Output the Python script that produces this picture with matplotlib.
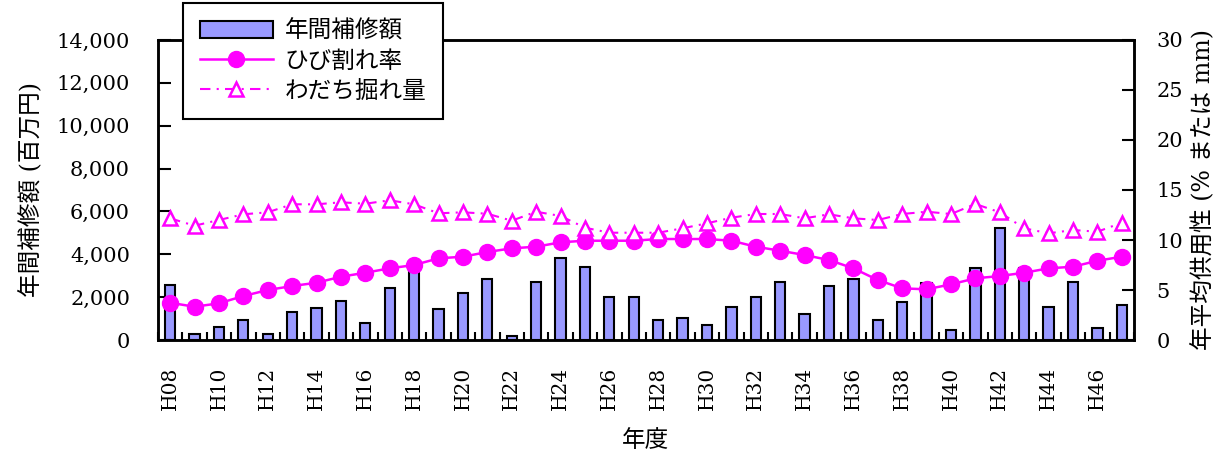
import numpy as np
import matplotlib
matplotlib.use("Agg")
from matplotlib import pyplot as plt
from matplotlib.patches import Patch
from matplotlib.lines import Line2D

plt.rcParams['font.family'] = ['DejaVu Serif', 'Noto Sans CJK JP']

# datos
years = ["H%02d" % y for y in range(8, 48)]
repair = [2550, 300, 600, 950, 300, 1300, 1500, 1800, 780, 2450,
          3350, 1430, 2180, 2830, 200, 2720, 3850, 3400, 2000, 2000,
          950, 1050, 680, 1520, 2000, 2720, 1230, 2530, 2830, 950,
          1790, 2640, 470, 3380, 5240, 3380, 1520, 2720, 580, 1620]
crack = [3.73, 3.33, 3.67, 4.4, 5.0, 5.4, 5.73, 6.33, 6.73, 7.17,
         7.5, 8.17, 8.33, 8.8, 9.17, 9.33, 9.77, 9.93, 9.93, 9.93,
         10.1, 10.1, 10.1, 9.93, 9.33, 8.93, 8.5, 8.0, 7.17, 6.0,
         5.17, 5.07, 5.57, 6.17, 6.4, 6.73, 7.17, 7.33, 7.93, 8.33]
rut = [12.17, 11.43, 12.0, 12.57, 12.77, 13.57, 13.57, 13.77, 13.63, 13.97,
       13.57, 12.67, 12.77, 12.63, 11.93, 12.83, 12.4, 11.23, 10.73, 10.73,
       10.73, 11.17, 11.67, 12.23, 12.6, 12.6, 12.17, 12.57, 12.17, 12.0,
       12.6, 12.83, 12.6, 13.6, 12.77, 11.17, 10.67, 11.0, 10.83, 11.73]

x = np.arange(len(years))
mag = "#FF00FF"

fig = plt.figure(figsize=(12.24, 4.54), dpi=100)
ax = fig.add_axes([0.129, 0.251, 0.7975, 0.661])
ax2 = ax.twinx()

ax.bar(x, repair, width=0.42, color="#9999FF", edgecolor="black", linewidth=1.5)
ax2.plot(x, crack, color=mag, lw=1.8, marker="o", ms=11.5)
ax2.plot(x, rut, color=mag, lw=1.5, marker="^", ms=9.5, mfc="white",
         mec=mag, mew=1.8, dashes=(5, 3, 1, 3))

ax.set_xlim(-0.5, len(years) - 0.5)
ax.set_ylim(0, 14000)
ax2.set_ylim(0, 30)
ax.set_yticks(range(0, 14001, 2000))
ax.set_yticklabels(["{:,}".format(v) for v in range(0, 14001, 2000)])
ax2.set_yticks(range(0, 31, 5))

ax.set_xticks(x[::2])
ax.set_xticklabels(years[::2], rotation=90)
ax.set_xticks(np.arange(-0.5, len(years)), minor=True)
ax.tick_params(axis="x", which="major", length=0, pad=19, labelsize=14.5)
ax.tick_params(axis="x", which="minor", direction="in", length=6, width=1.5)
ax.tick_params(axis="y", direction="in", length=9, width=1.5, labelsize=15, pad=20)
ax2.tick_params(axis="y", direction="in", length=9, width=1.5, labelsize=15, pad=16)
for a in (ax, ax2):
    for s in a.spines.values():
        s.set_linewidth(1.8)

ax.set_ylabel("年間補修額 (百万円)", fontsize=17, labelpad=10)
ax2.set_ylabel("年平均供用性 (% または mm)", fontsize=17, labelpad=6)
ax.set_xlabel("年度", fontsize=17, labelpad=14)

handles = [Patch(facecolor="#9999FF", edgecolor="black", linewidth=1.5),
           Line2D([], [], color=mag, lw=1.8, marker="o", ms=11.5),
           Line2D([], [], color=mag, lw=1.5, marker="^", ms=9.5, mfc="white",
                  mec=mag, mew=1.8, dashes=(5, 3, 1, 3))]
labels = ["年間補修額", "ひび割れ率", "わだち掘れ量"]
leg = ax2.legend(handles, labels, loc="upper left", bbox_to_anchor=(0.1495, 0.9934),
                 bbox_transform=fig.transFigure, fontsize=17, fancybox=False,
                 framealpha=1, edgecolor="black", handlelength=3.1,
                 handletextpad=0.5, borderpad=0.7, labelspacing=0.3,
                 borderaxespad=0)
leg.get_frame().set_linewidth(1.5)

fig.savefig("out.png", dpi=100)
